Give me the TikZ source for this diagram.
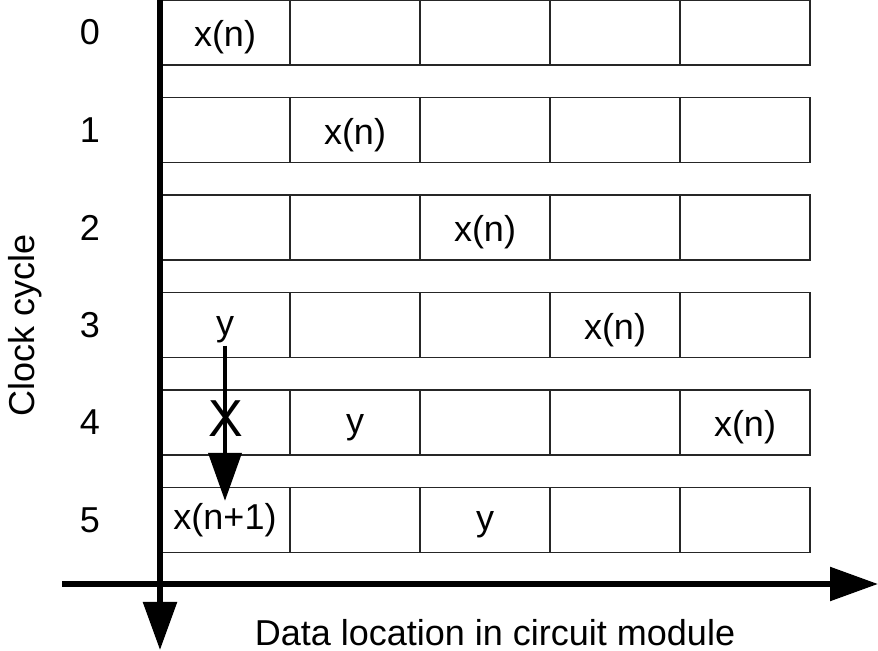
\documentclass[tikz,border=0pt]{standalone}
\usepackage{fontspec}
\setmainfont{Liberation Sans}
\usetikzlibrary{arrows.meta}
\begin{document}
\begin{tikzpicture}[x=0.5pt,y=-0.5pt,
    cell/.style={draw=black!85,line width=0.7pt,minimum width=65pt,minimum height=32.5pt,inner sep=0pt,outer sep=0pt},
    lbl/.style={font=\fontsize{18}{21}\selectfont,inner sep=1pt},
    ctext/.style={lbl,yshift=-2.5pt},
    axis/.style={line width=2.8pt,-{Triangle[length=24pt,width=16.5pt]}},
    move/.style={line width=2pt,-{Triangle[length=24pt,width=16.5pt]}}]
        \useasboundingbox (0,0) rectangle (878,651);

        % memory cells, one row per clock cycle
        \foreach \r in {0,...,5}
            \foreach \c in {0,...,4}
                \node[cell] (c\r\c) at (225+130*\c, 32.5+97.5*\r) {};

        \node[ctext] (t00) at (c00) {x(n)};
        \node[ctext] (t11) at (c11) {x(n)};
        \node[ctext] (t22) at (c22) {x(n)};
        \node[ctext] (t30) at (c30) {y};
        \node[ctext] (t33) at (c33) {x(n)};
        \node[ctext] (t41) at (c41) {y};
        \node[ctext] (t44) at (c44) {x(n)};
        \node[lbl] (t50) at (c50) {x(n+1)};
        \node[ctext] (t52) at (c52) {y};

        \node[lbl] (r0) at (90, 32) {0};
        \node[lbl] (r1) at (90, 130) {1};
        \node[lbl] (r2) at (90, 228) {2};
        \node[lbl] (r3) at (90, 325) {3};
        \node[lbl] (r4) at (90, 422) {4};
        \node[lbl] (r5) at (90, 520) {5};

        % axes
        \coordinate (ytop) at (160, -10);
        \coordinate (yend) at (160, 650);
        \coordinate (xbeg) at (62, 584);
        \coordinate (xend) at (878, 584);
        \draw[axis] (ytop) -- (yend);
        \draw[axis] (xbeg) -- (xend);

        \node[lbl,rotate=90] (ylab) at (25, 325) {Clock cycle};
        \node[lbl] (xlab) at (495, 633) {Data location in circuit module};

        % y moves down, blocked
        \draw[move] (t30.south) -- (t50.north);
        \node[font=\fontsize{26}{30}\selectfont,inner sep=0pt] (cross) at (226, 419) {X};
\end{tikzpicture}
\end{document}
